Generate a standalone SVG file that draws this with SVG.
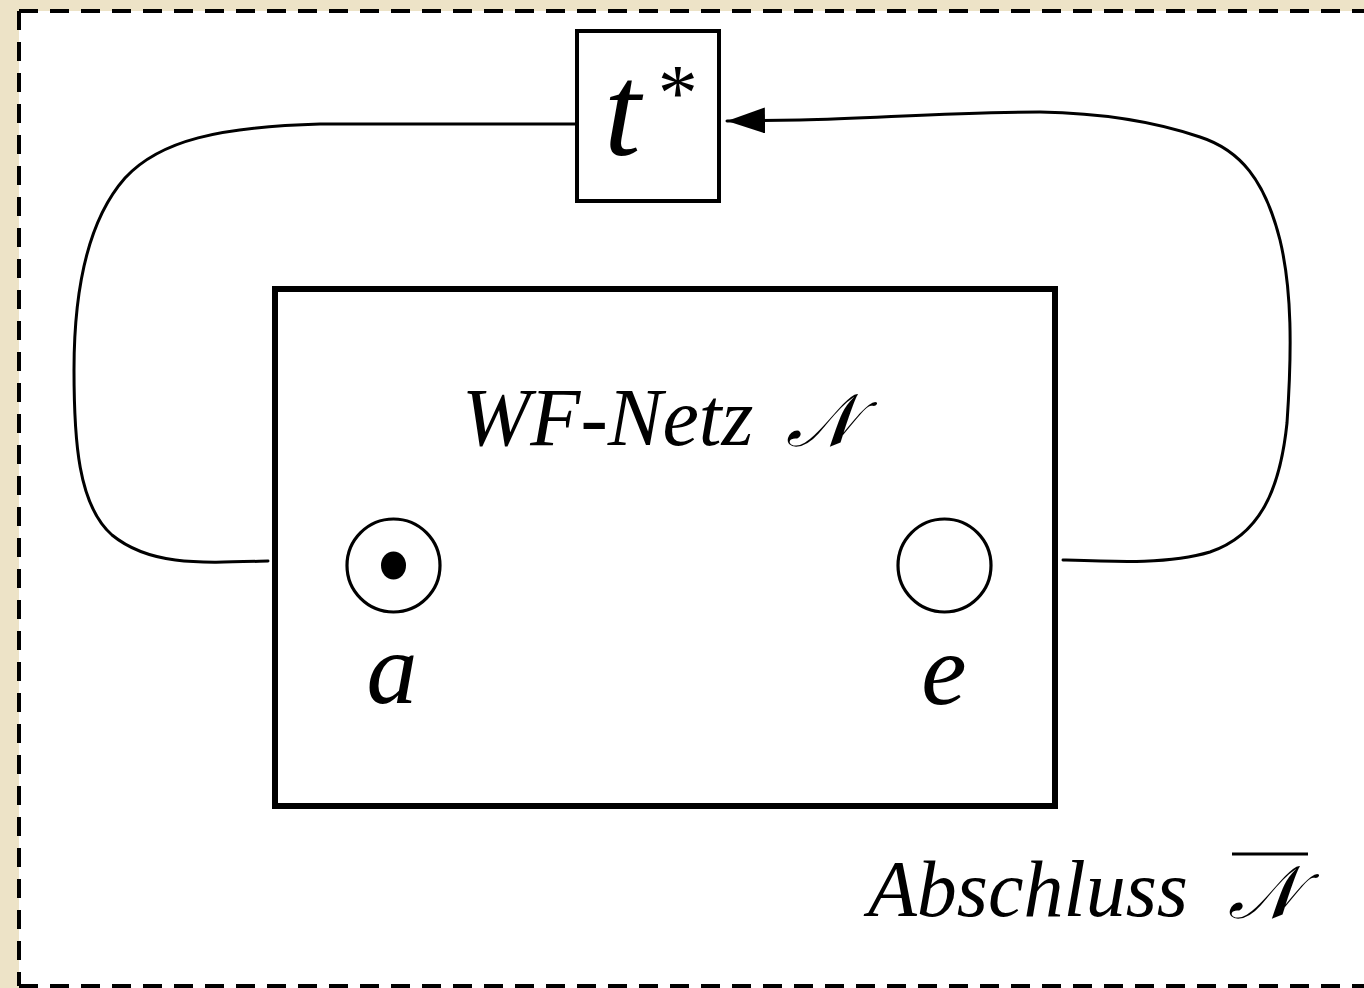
<svg xmlns="http://www.w3.org/2000/svg" width="1364" height="988" viewBox="0 0 1364 988">
<style>
text{font-family:"Liberation Serif","Times New Roman",serif;font-style:italic;fill:#000}
.arc{fill:none;stroke:#000;stroke-width:3;stroke-linecap:round;stroke-linejoin:round}
.place{fill:#fff;stroke:#000;stroke-width:3.2}
.border{fill:none;stroke:#000;stroke-width:4;stroke-dasharray:19 12}
</style>
<defs>
<marker id="arrow" markerWidth="40" markerHeight="28" refX="38" refY="13" orient="auto" markerUnits="userSpaceOnUse">
<path d="M0,0 L38,13 L0,26 Z" fill="#000"/>
</marker>
</defs>
<rect x="0" y="0" width="1364" height="988" fill="#ede3c7"/>
<rect x="19" y="11" width="1345" height="977" fill="#fff"/>
<g id="frame">
<line class="border" x1="19" y1="11" x2="1364" y2="11"/>
<line class="border" x1="19" y1="11" x2="19" y2="986"/>
<line class="border" x1="19" y1="986" x2="1364" y2="986"/>
</g>
<g id="connectors">
<path class="arc" d="M268 561 C200 563,150 566,112 535 C78 505,74 440,74 370 C74 290,88 220,125 178 C160 140,220 127,320 124 L576 124"/>
<path class="arc" d="M1063 560 C1120 562,1170 564,1210 552 C1260 535,1280 490,1287 423 C1292 350,1292 290,1280 240 C1265 180,1240 150,1200 137 C1150 120,1100 113,1040 112 C950 112,880 118,800 120 L727 121" marker-end="url(#arrow)"/>
</g>
<g id="node-tstar">
<rect x="577" y="31" width="142" height="170" fill="#fff" stroke="#000" stroke-width="4"/>
<text font-family="Liberation Serif" font-style="italic" x="604" y="155" font-size="132">t</text>
<text font-family="Liberation Serif" x="654" y="120" font-size="80" font-style="normal">*</text>
</g>
<g id="node-wfnet">
<rect x="275" y="289" width="780" height="517" fill="none" stroke="#000" stroke-width="6"/>
<text font-family="Liberation Serif" font-style="italic" x="462" y="445" font-size="82">WF-Netz</text>
<text x="786" y="446" font-size="74">𝒩</text>
</g>
<g id="node-a">
<circle class="place" cx="393.5" cy="565.5" r="46.5"/>
<ellipse cx="393.5" cy="565.5" rx="12.5" ry="14" fill="#000"/>
<text font-family="Liberation Serif" font-style="italic" x="392" y="703" font-size="102" text-anchor="middle">a</text>
</g>
<g id="node-e">
<circle class="place" cx="944.5" cy="565.5" r="46.5"/>
<text font-family="Liberation Serif" font-style="italic" x="944" y="704" font-size="102" text-anchor="middle">e</text>
</g>
<g id="label-abschluss">
<text font-family="Liberation Serif" font-style="italic" x="868" y="916" font-size="80">Abschluss</text>
<text x="1228" y="918" font-size="74">𝒩</text>
<line x1="1232" y1="854" x2="1308" y2="854" stroke="#000" stroke-width="3"/>
</g>
</svg>
